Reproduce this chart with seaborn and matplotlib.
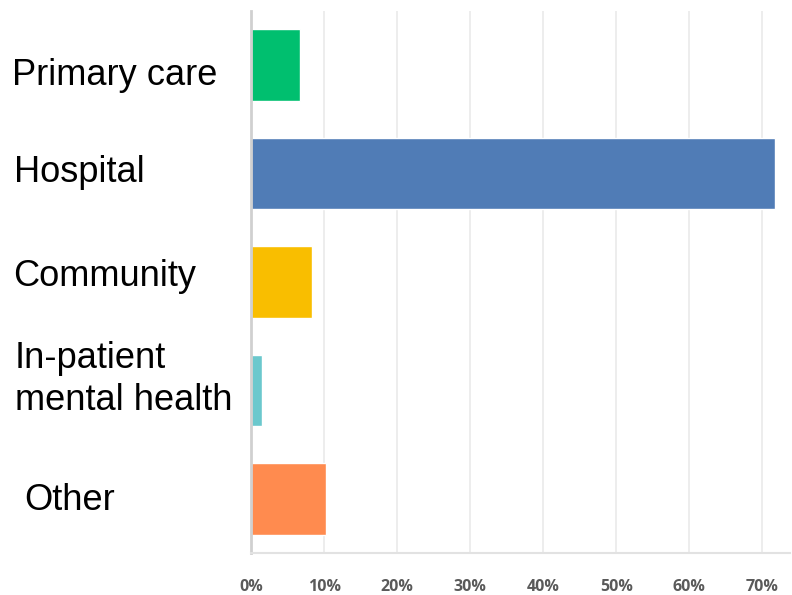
import matplotlib
matplotlib.use("Agg")
import matplotlib.pyplot as plt
import matplotlib.transforms as mtransforms
import seaborn as sns
import pandas as pd

categories = ["Primary care", "Hospital", "Community", "In-patient\nmental health", "Other"]
values = [6.7, 71.8, 8.4, 1.5, 10.3]
colors = ["#00BF6F", "#507CB6", "#F9BE00", "#6BC8CD", "#FF8B4F"]
xticks = [0, 10, 20, 30, 40, 50, 60, 70]
xtick_labels = ["0%", "10%", "20%", "30%", "40%", "50%", "60%", "70%"]

df = pd.DataFrame({"category": categories, "value": values})

sns.set_theme(style="white")
fig = plt.figure(figsize=(7.92, 5.95), dpi=100)
ax = fig.add_axes([251 / 792, 1 - 553 / 595, (790 - 251) / 792, (553 - 11) / 595])

sns.barplot(data=df, y="category", x="value", hue="category", palette=colors,
            order=categories, hue_order=categories, orient="h", width=0.66,
            legend=False, ax=ax, saturation=1)

ax.set_xlim(0, 73.8)
ax.set_ylim(4.5, -0.5)
ax.set_xticks(xticks)
ax.set_xticklabels(xtick_labels, fontsize=11.5, color="#5a5a5a", fontweight="bold",
                   family=["Open Sans", "DejaVu Sans"])
ax.set_xlabel("")
ax.set_ylabel("")
ax.grid(axis="x", color="#ececec", linewidth=1.3)
ax.grid(axis="y", visible=False)
ax.set_axisbelow(True)

for side in ["top", "right"]:
    ax.spines[side].set_visible(False)
ax.spines["left"].set_color("#d0d0d0")
ax.spines["left"].set_linewidth(2)
ax.spines["bottom"].set_color("#e2e2e2")
ax.spines["bottom"].set_linewidth(1.5)

ax.tick_params(axis="x", length=0, pad=19)
ax.tick_params(axis="y", length=0, pad=172)

# fine offsets of individual labels (pixels; dy positive = up), baseline aligned
offsets = {
    "Primary care": (0, -20),
    "Hospital": (2, -8.5),
    "Community": (1, -4),
    "In-patient\nmental health": (3, -19.6),
    "Other": (12, -11),
}
for lab in ax.get_yticklabels():
    lab.set_horizontalalignment("left")
    lab.set_verticalalignment("baseline")
    lab.set_fontsize(26.1)
    lab.set_family(["Liberation Sans", "DejaVu Sans"])
    lab.set_color("black")
    lab.set_linespacing(1.27)
    dx, dy = offsets.get(lab.get_text(), (0, 0))
    lab.set_transform(lab.get_transform() +
                      mtransforms.ScaledTranslation(dx / 100, dy / 100, fig.dpi_scale_trans))

fig.savefig("out.png", dpi=100)
